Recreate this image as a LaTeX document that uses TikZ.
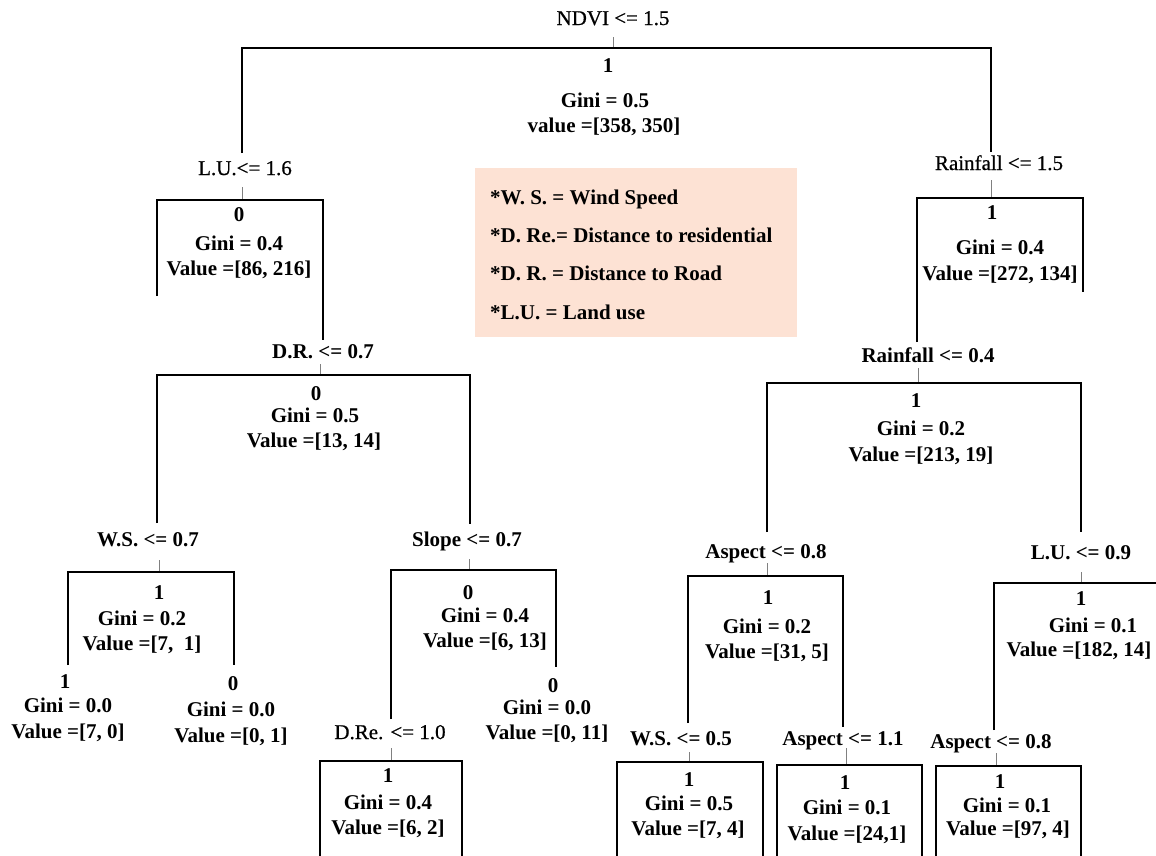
\documentclass[tikz,border=0pt]{standalone}
\usepackage{fontspec}
\setmainfont{Liberation Serif}
\newfontfamily\medfont[FakeBold=0.6]{Liberation Serif}
\definecolor{legendfill}{HTML}{FDE2D4}
\newcommand\mybrk[8]{%
  \coordinate (#1-t) at (#2,#3);
  \coordinate (#1-b) at (#2,#4);
  \coordinate (#1-L) at (#5,#6);
  \coordinate (#1-R) at (#7,#8);
  \draw[tick] (#1-t) -- (#1-b);
  \draw[branch] (#1-L) |- (#1-b) -| (#1-R);}
\begin{document}
\begin{tikzpicture}[x=1pt,y=-1pt,
  lbl/.style={font=\fontsize{21}{25}\selectfont\medfont, anchor=base, inner sep=0pt},
  lblb/.style={font=\fontsize{21}{25}\selectfont\bfseries, anchor=base, inner sep=0pt},
  tb/.style={font=\fontsize{21}{25}\selectfont\bfseries, anchor=base, inner sep=0pt},
  leg/.style={font=\fontsize{21}{25}\selectfont\bfseries, anchor=base west, inner sep=0pt},
  branch/.style={line width=2.8pt, black},
  tick/.style={line width=0.8pt, gray}]
\useasboundingbox (0,0) rectangle (1156,855);
\fill[white] (0,0) rectangle (1156,855);

% legend
\node[fill=legendfill, minimum width=322pt, minimum height=169pt, inner sep=0pt, anchor=north west] (legend) at (475,168) {};
\node[leg] (leg1) at (490,204) {*W. S. = Wind Speed};
\node[leg] (leg2) at (490,242) {*D. Re.= Distance to residential};
\node[leg] (leg3) at (490,280) {*D. R. = Distance to Road};
\node[leg] (leg4) at (490,319) {*L.U. = Land use};

% root
\node[lbl] (ndvi) at (613,25) {NDVI <= 1.5};
\mybrk{ndvi}{613}{37}{48}{242}{153}{991}{152}
\node[tb] (ndvi-c) at (608,72) {1};
\node[tb] (ndvi-g) at (605,107) {Gini = 0.5};
\node[tb] (ndvi-v) at (604,132) {value =[358, 350]};

% L.U. <= 1.6
\node[lbl] (lu16) at (245,175) {L.U.<= 1.6};
\mybrk{lu16}{242}{187}{200}{157}{296}{323}{340}
\node[tb] (lu16-c) at (239,221) {0};
\node[tb] (lu16-g) at (239,250) {Gini = 0.4};
\node[tb] (lu16-v) at (239,275) {Value =[86, 216]};

% D.R. <= 0.7
\node[lblb] (dr) at (323,358) {D.R. <= 0.7};
\mybrk{dr}{320}{364}{375}{157}{523}{470}{524}
\node[tb] (dr-c) at (316,400) {0};
\node[tb] (dr-g) at (315,422) {Gini = 0.5};
\node[tb] (dr-v) at (314,447) {Value =[13, 14]};

% W.S. <= 0.7
\node[lblb] (ws7) at (148,546) {W.S. <= 0.7};
\mybrk{ws7}{159}{560}{572}{68}{665}{234}{665}
\node[tb] (ws7-c) at (159,599) {1};
\node[tb] (ws7-g) at (142,625) {Gini = 0.2};
\node[tb] (ws7-v) at (142,650) {Value =[7,\ \ 1]};
\node[tb] (ws7a-c) at (65,688) {1};
\node[tb] (ws7a-g) at (68,712) {Gini = 0.0};
\node[tb] (ws7a-v) at (68,738) {Value =[7, 0]};
\node[tb] (ws7b-c) at (233,690) {0};
\node[tb] (ws7b-g) at (231,716) {Gini = 0.0};
\node[tb] (ws7b-v) at (231,742) {Value =[0, 1]};

% Slope <= 0.7
\node[lblb] (sl) at (467,546) {Slope <= 0.7};
\mybrk{sl}{469}{559}{570}{391}{719}{556}{667}
\node[tb] (sl-c) at (468,599) {0};
\node[tb] (sl-g) at (485,622) {Gini = 0.4};
\node[tb] (sl-v) at (485,647) {Value =[6, 13]};
\node[tb] (slb-c) at (553,692) {0};
\node[tb] (slb-g) at (547,714) {Gini = 0.0};
\node[tb] (slb-v) at (547,739) {Value =[0, 11]};

% D.Re. <= 1.0
\node[lbl] (dre) at (390,739) {D.Re. <= 1.0};
\mybrk{dre}{391}{748}{761}{320}{858}{462}{858}
\node[tb] (dre-c) at (388,782) {1};
\node[tb] (dre-g) at (388,809) {Gini = 0.4};
\node[tb] (dre-v) at (388,834) {Value =[6, 2]};

% Rainfall <= 1.5
\node[lbl] (rf15) at (999,170) {Rainfall <= 1.5};
\mybrk{rf15}{991}{180}{198}{917}{342}{1083}{292}
\node[tb] (rf15-c) at (992,219) {1};
\node[tb] (rf15-g) at (1000,254) {Gini = 0.4};
\node[tb] (rf15-v) at (1000,280) {Value =[272, 134]};

% Rainfall <= 0.4
\node[lblb] (rf04) at (928,362) {Rainfall <= 0.4};
\mybrk{rf04}{918}{368}{383}{767}{532}{1081}{532}
\node[tb] (rf04-c) at (916,407) {1};
\node[tb] (rf04-g) at (921,435) {Gini = 0.2};
\node[tb] (rf04-v) at (921,461) {Value =[213, 19]};

% Aspect <= 0.8
\node[lblb] (as8) at (766,558) {Aspect <= 0.8};
\mybrk{as8}{767}{563}{576}{688}{723}{843}{727}
\node[tb] (as8-c) at (768,604) {1};
\node[tb] (as8-g) at (767,633) {Gini = 0.2};
\node[tb] (as8-v) at (767,658) {Value =[31, 5]};

% L.U. <= 0.9
\node[lblb] (lu9) at (1081,559) {L.U. <= 0.9};
\mybrk{lu9}{1081}{572}{583}{994}{730}{1160}{583}
\node[tb] (lu9-c) at (1081,605) {1};
\node[tb] (lu9-g) at (1093,632) {Gini = 0.1};
\node[tb] (lu9-v) at (1079,656) {Value =[182, 14]};

% W.S. <= 0.5
\node[lblb] (ws5) at (681,745) {W.S. <= 0.5};
\mybrk{ws5}{689}{752}{762}{617}{858}{763}{858}
\node[tb] (ws5-c) at (689,786) {1};
\node[tb] (ws5-g) at (689,810) {Gini = 0.5};
\node[tb] (ws5-v) at (688,835) {Value =[7, 4]};

% Aspect <= 1.1
\node[lblb] (as11) at (843,745) {Aspect <= 1.1};
\mybrk{as11}{846}{748}{765}{777}{858}{922}{858}
\node[tb] (as11-c) at (845,789) {1};
\node[tb] (as11-g) at (847,814) {Gini = 0.1};
\node[tb] (as11-v) at (847,840) {Value =[24,1]};

% Aspect <= 0.8 (second)
\node[lblb] (as8b) at (991,748) {Aspect <= 0.8};
\mybrk{as8b}{996}{753}{766}{936}{858}{1081}{858}
\node[tb] (as8b-c) at (1000,788) {1};
\node[tb] (as8b-g) at (1007,812) {Gini = 0.1};
\node[tb] (as8b-v) at (1008,835) {Value =[97, 4]};
\end{tikzpicture}
\end{document}
